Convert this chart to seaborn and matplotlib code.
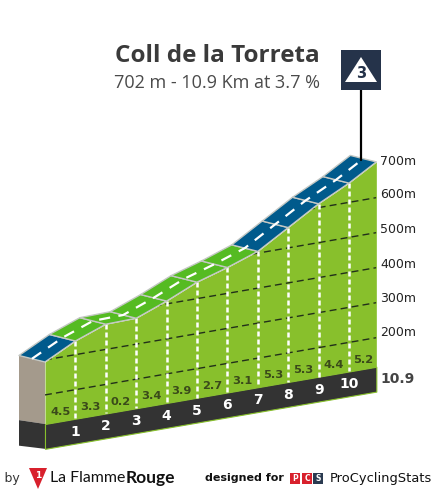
import numpy as np
import matplotlib
matplotlib.use('Agg')
import matplotlib.pyplot as plt
from matplotlib.patches import Polygon, Rectangle
import seaborn as sns

# values
km = [0, 1, 2, 3, 4, 5, 6, 7, 8, 9, 10, 10.9]
elevation = [294, 339, 372, 374, 408, 447, 474, 505, 558, 611, 655, 702]
gradients = [4.5, 3.3, 0.2, 3.4, 3.9, 2.7, 3.1, 5.3, 5.3, 4.4, 5.2]
km_labels = [1, 2, 3, 4, 5, 6, 7, 8, 9, 10]
grid_levels = [200, 300, 400, 500, 600]
alt_ticks = ['700m', '600m', '500m', '400m', '300m', '200m']
alt_tick_px = [161, 194, 229, 264, 298, 332]
base_elevation = 117
band_depth = 71

GREEN = '#88c02c'
ROAD_GREEN = '#55bb22'
ROAD_BLUE = '#005a8c'
DARK = '#333333'
EDGE = '#c4c8c4'

W, H = 435, 494
SHEAR = 15          # the chart is drawn oblique: metres of lift per km
ROAD_DX, ROAD_DY = -0.855, 18.6

sns.set_theme(style='white')
plt.rcParams['font.family'] = ['DejaVu Sans']

fig = plt.figure(figsize=(W / 100, H / 100), dpi=100)
ax = fig.add_axes([0, 0, 1, 1])
ax.set_xlim(-1.48, 12.83)
ax.set_ylim(-83, 1328)
ax.axis('off')

km_arr = np.array(km)
profile = np.array(elevation) + SHEAR * km_arr
base = base_elevation + SHEAR * km_arr


def line(x, y, color, lw, dashes=None, zorder=3):
    sns.lineplot(x=x, y=y, ax=ax, color=color, linewidth=lw, estimator=None, sort=False, zorder=zorder)
    ln = ax.lines[-1]
    if dashes:
        ln.set_dashes(dashes)
        ln.set_dash_capstyle('butt')
    return ln


# side wall
wall_x = km_arr[0] + ROAD_DX
ax.add_patch(Polygon([[wall_x, profile[0] + ROAD_DY], [0, profile[0]], [0, base[0]], [wall_x, base[0] + 11]],
                     facecolor='#a49a8c', edgecolor='none', zorder=1))
ax.add_patch(Polygon([[wall_x, base[0] + 11], [0, base[0]], [0, base[0] - band_depth], [wall_x, base[0] - band_depth + 9]],
                     facecolor=DARK, edgecolor='none', zorder=1))

# hill and km band
hill = ax.fill_between(km_arr, base, profile, color=GREEN, linewidth=0, zorder=1)
ax.fill_between(km_arr, base - band_depth, base, facecolor=DARK, edgecolor=GREEN, linewidth=0.8, zorder=2)

# altitude lines, cut off by the hill
for level in grid_levels:
    ln = line(km_arr, level + SHEAR * km_arr, '#22301a', 1, dashes=(5, 3))
    ln.set_clip_path(hill.get_paths()[0], ax.transData)

# km markers
for k in km_labels:
    i = km.index(k)
    line([k, k], [profile[i], base[i]], 'white', 1.8, dashes=(2, 1.2))
    ax.text(k, base[i] - 37, str(k), color='white', fontsize=10, fontweight='bold', ha='center', va='center', zorder=5)

# gradient labels
for i, g in enumerate(gradients):
    mid = (km[i] + km[i + 1]) / 2
    ax.text(mid, base_elevation + SHEAR * mid + 26, f'{g:.1f}', color='#3a4a1a', fontsize=8.2,
            fontweight='bold', ha='center', va='center', zorder=5)

# road surface, one tile per km
for i, g in enumerate(gradients):
    color = ROAD_BLUE if g >= 4 else ROAD_GREEN
    ax.add_patch(Polygon([[km[i], profile[i]], [km[i + 1], profile[i + 1]],
                          [km[i + 1] + ROAD_DX, profile[i + 1] + ROAD_DY], [km[i] + ROAD_DX, profile[i] + ROAD_DY]],
                         facecolor=color, edgecolor=EDGE, linewidth=1, joinstyle='round', zorder=3))

line(km_arr + ROAD_DX / 2, profile + ROAD_DY / 2, 'white', 1.6, dashes=(5, 3.8), zorder=4)

# overlay in pixels for the header and the footer
over = fig.add_axes([0, 0, 1, 1])
over.set_xlim(0, W)
over.set_ylim(H, 0)
over.axis('off')
over.patch.set_alpha(0)

over.text(320, 56, 'Coll de la Torreta', fontsize=17.5, fontweight='bold', color='#3a3a3a', ha='right', va='center', family='Open Sans')
over.text(320, 83, '702 m - 10.9 Km at 3.7 %', fontsize=13, color='#4a4a4a', ha='right', va='center', family='Open Sans')

# category flag
over.plot([361, 361], [90, 160], color='black', lw=1.6, zorder=2)
over.add_patch(Rectangle((341, 50), 40, 40, facecolor='#25334a', edgecolor='none', zorder=3))
over.add_patch(Polygon([[361, 57], [345, 82], [377, 82]], facecolor='white', edgecolor='none', zorder=4))
over.text(361, 73, '3', fontsize=10.5, fontweight='bold', color='#25334a', ha='center', va='center', zorder=5)

for label, y in zip(alt_ticks, alt_tick_px):
    over.text(380, y, label, fontsize=9, color='#222222', ha='left', va='center')
over.text(380, 379, '10.9', fontsize=10, fontweight='bold', color='#444444', ha='left', va='center')

# footer
over.text(19.5, 478, 'l by', fontsize=9, color='#333333', ha='right', va='center')
over.add_patch(Polygon([[29, 468], [47, 468], [38, 489]], facecolor='#d8202c', edgecolor='none'))
over.text(38, 475, '1', fontsize=6.5, fontweight='bold', color='white', ha='center', va='center')
over.text(50, 478, 'La Flamme', fontsize=11.4, color='#111111', ha='left', va='center', family='Lato')
over.text(175, 478, 'Rouge', fontsize=12.5, fontweight='bold', color='#111111', ha='right', va='center', family='Lato')
over.text(205, 478, 'designed for', fontsize=8, fontweight='bold', color='#111111', ha='left', va='center')
for x0, letter, color in zip([290, 302, 313.5], ['P', 'C', 'S'], ['#d8202c', '#d8202c', '#2a3a50']):
    over.add_patch(Rectangle((x0, 473), 10, 10.5, facecolor=color, edgecolor='none'))
    over.text(x0 + 5, 478.5, letter, fontsize=5.5, fontweight='bold', color='white', ha='center', va='center')
over.text(330, 478, 'ProCyclingStats', fontsize=9.4, color='#111111', ha='left', va='center')

fig.savefig('out.png', dpi=100, facecolor='white')
